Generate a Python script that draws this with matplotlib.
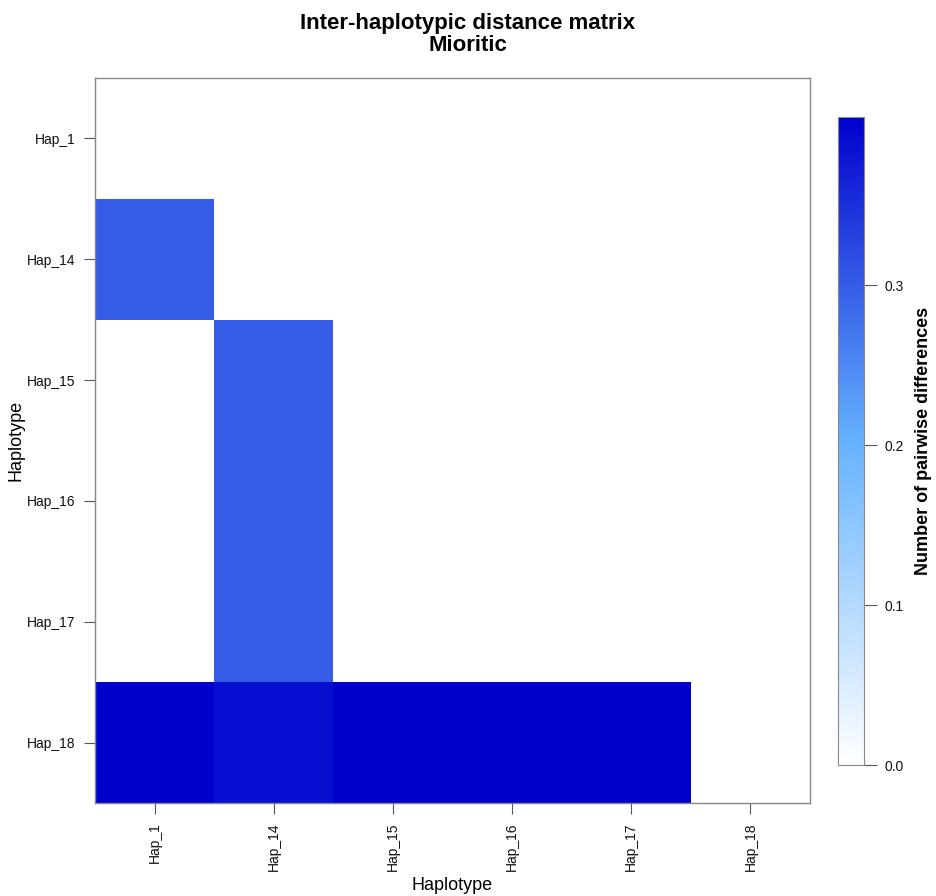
import numpy as np
import matplotlib
matplotlib.use("Agg")
import matplotlib.pyplot as plt
from matplotlib.colors import LinearSegmentedColormap

plt.rcParams['font.family'] = ['Liberation Sans', 'DejaVu Sans']

haplotypes = ["Hap_1", "Hap_14", "Hap_15", "Hap_16", "Hap_17", "Hap_18"]
nan = np.nan
# rows top->bottom, columns left->right (lower triangle)
row_hap_1 = [0.0, nan, nan, nan, nan, nan]
row_hap_14 = [0.30, 0.0, nan, nan, nan, nan]
row_hap_15 = [0.0, 0.30, 0.0, nan, nan, nan]
row_hap_16 = [0.0, 0.30, 0.0, 0.0, nan, nan]
row_hap_17 = [0.0, 0.30, 0.0, 0.0, 0.0, nan]
row_hap_18 = [0.405, 0.39, 0.405, 0.405, 0.405, 0.0]
matrix = np.array([row_hap_1, row_hap_14, row_hap_15, row_hap_16, row_hap_17, row_hap_18])

cbar_ticks = [0.0, 0.1, 0.2, 0.3]

cmap = LinearSegmentedColormap.from_list("wb", ["#ffffff", "#66b2ff", "#0000cd"])

fig = plt.figure(figsize=(9.36, 8.96), dpi=100)
W, H = 936, 896
ax = fig.add_axes([95 / W, 1 - 803 / H, (810 - 95) / W, (803 - 78) / H])
cax = fig.add_axes([838 / W, 1 - 765 / H, (864 - 838) / W, (765 - 117) / H])

n = len(haplotypes)
x = np.arange(n + 1) - 0.5
mesh = ax.pcolormesh(x, x, np.ma.masked_invalid(matrix), cmap=cmap, vmin=0, vmax=0.405)
ax.set_xlim(-0.5, n - 0.5)
ax.set_ylim(n - 0.5, -0.5)
ax.set_xticks(range(n))
ax.set_xticklabels(haplotypes, rotation=90, fontsize=10)
ax.set_yticks(range(n))
ax.set_yticklabels(haplotypes, fontsize=10)
for s in ax.spines.values():
    s.set_color("#888888")
    s.set_linewidth(1.0)
ax.tick_params(colors="#555555", labelcolor="#111111", length=8, width=0.8, pad=6)
ax.set_xlabel("Haplotype", fontsize=13, labelpad=4)
ax.set_ylabel("Haplotype", fontsize=13, labelpad=2)

fig.suptitle("Inter-haplotypic distance matrix\nMioritic", fontsize=16, fontweight="bold",
             y=0.986, linespacing=1.1)

cb = fig.colorbar(mesh, cax=cax, ticks=cbar_ticks)
cb.ax.set_yticklabels(["0.0", "0.1", "0.2", "0.3"], fontsize=10)
cb.outline.set_edgecolor("#888888")
cb.ax.tick_params(colors="#555555", labelcolor="#111111", length=9, width=0.8, pad=6)
cb.set_label("Number of pairwise differences", fontsize=13, fontweight="bold", labelpad=8)

fig.savefig("out.png", dpi=100, facecolor="white")
